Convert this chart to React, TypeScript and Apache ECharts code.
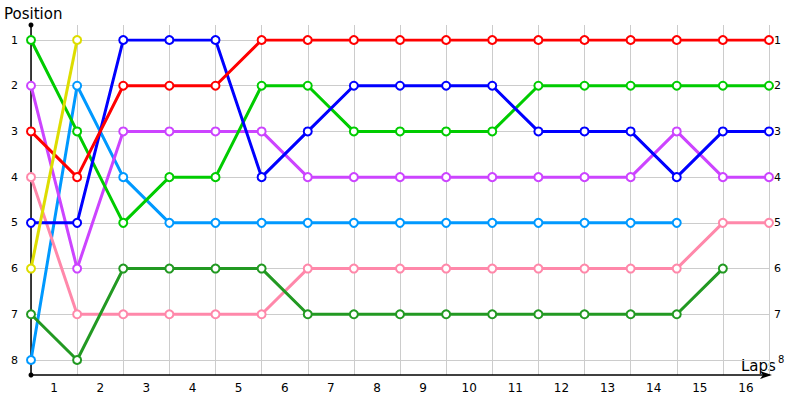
import React, { useEffect, useRef } from "react";
import * as echarts from "echarts";

const laps = ["1","2","3","4","5","6","7","8","9","10","11","12","13","14","15","16"];
const positions = [1, 2, 3, 4, 5, 6, 7, 8];

const red = [3, 4, 2, 2, 2, 1, 1, 1, 1, 1, 1, 1, 1, 1, 1, 1, 1];
const green = [1, 3, 5, 4, 4, 2, 2, 3, 3, 3, 3, 2, 2, 2, 2, 2, 2];
const blue = [5, 5, 1, 1, 1, 4, 3, 2, 2, 2, 2, 3, 3, 3, 4, 3, 3];
const purple = [2, 6, 3, 3, 3, 3, 4, 4, 4, 4, 4, 4, 4, 4, 3, 4, 4];
const lightBlue = [8, 2, 4, 5, 5, 5, 5, 5, 5, 5, 5, 5, 5, 5, 5];
const pink = [4, 7, 7, 7, 7, 7, 6, 6, 6, 6, 6, 6, 6, 6, 6, 5, 5];
const darkGreen = [7, 8, 6, 6, 6, 6, 7, 7, 7, 7, 7, 7, 7, 7, 7, 6];
const yellow = [6, 1];

const seriesDefs = [
  { name: "lightBlue", color: "#0099ff", values: lightBlue },
  { name: "pink", color: "#ff88aa", values: pink },
  { name: "darkGreen", color: "#229922", values: darkGreen },
  { name: "purple", color: "#cc44ff", values: purple },
  { name: "green", color: "#00cc00", values: green },
  { name: "blue", color: "#0000ff", values: blue },
  { name: "red", color: "#ff0000", values: red },
  { name: "yellow", color: "#dddd00", values: yellow },
];

const FONT = "DejaVu Sans";

export default function App() {
  const ref = useRef<HTMLDivElement>(null);
  useEffect(() => {
    const chart = echarts.init(ref.current!, null, { renderer: "svg" });
    const labelStyle = { color: "#000", fontFamily: FONT, fontSize: 11 };
    chart.setOption({
      animation: false,
      backgroundColor: "#fff",
      graphic: [
        { type: "text", left: 4, top: 6, style: { text: "Position", fontFamily: FONT, fontSize: 15, fill: "#000" } },
        { type: "text", left: 741, top: 358, style: { text: "Laps", fontFamily: FONT, fontSize: 15, fill: "#000" } },
      ],
      grid: [
        { left: 31, right: 31, top: 25, bottom: 25 },
        { left: 31, right: 31, top: 40, bottom: 40 },
      ],
      xAxis: [
        {
          gridIndex: 0, type: "value", min: 0, max: laps.length, interval: 1,
          axisLine: { show: true, lineStyle: { color: "#000", width: 1.5 }, symbol: ["none", "arrow"], symbolSize: [6, 12], symbolOffset: [0, 3] },
          axisTick: { show: false }, axisLabel: { show: false },
          splitLine: { show: true, lineStyle: { color: "#cccccc", width: 1 } },
        },
        {
          gridIndex: 0, type: "category", data: laps, position: "bottom", boundaryGap: true,
          axisLine: { show: false }, axisTick: { show: false },
          axisLabel: { ...labelStyle, fontSize: 12, margin: 7 },
          splitLine: { show: false },
        },
        {
          gridIndex: 1, type: "value", min: 0, max: laps.length, show: false,
        },
      ],
      yAxis: [
        {
          gridIndex: 0, type: "value", min: 0, max: 1,
          axisLine: { show: true, lineStyle: { color: "#000", width: 1.5 }, symbol: ["circle", "circle"], symbolSize: [5, 5] },
          axisTick: { show: false }, axisLabel: { show: false }, splitLine: { show: false },
        },
        {
          gridIndex: 1, type: "value", inverse: true, min: positions[0], max: positions[positions.length - 1], interval: 1,
          position: "left",
          axisLine: { show: false }, axisTick: { show: false },
          axisLabel: { ...labelStyle, margin: 13 },
          splitLine: { show: true, lineStyle: { color: "#cccccc", width: 1 } },
        },
        {
          gridIndex: 1, type: "value", inverse: true, min: positions[0], max: positions[positions.length - 1], interval: 1,
          position: "right",
          axisLine: { show: false }, axisTick: { show: false },
          axisLabel: {
            ...labelStyle, margin: 5,
            formatter: (v: number) => (v === positions[positions.length - 1] ? "{hi|" + v + "}" : String(v)),
            rich: { hi: { ...labelStyle, fontSize: 10, padding: [0, 0, 2, 4] } },
          },
          splitLine: { show: false },
        },
      ],
      series: seriesDefs.map((s) => ({
        name: s.name,
        type: "line",
        xAxisIndex: 2,
        yAxisIndex: 1,
        data: s.values.map((v, i) => [i, v]),
        symbol: "emptyCircle",
        symbolSize: 8,
        lineStyle: { color: s.color, width: 3 },
        itemStyle: { color: s.color, borderWidth: 1 },
      })),
    });
    return () => chart.dispose();
  }, []);
  return <div ref={ref} style={{ width: 800, height: 400, position: "absolute", left: 0, top: 0 }} />;
}
